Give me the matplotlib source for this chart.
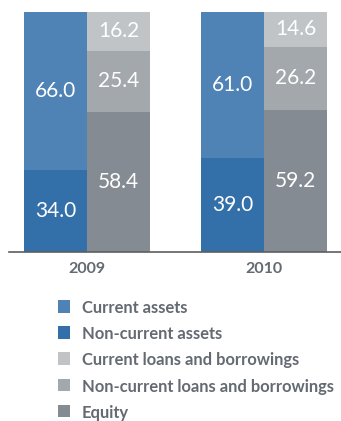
import matplotlib
matplotlib.use("Agg")
import matplotlib.pyplot as plt
from matplotlib.patches import Rectangle

plt.rcParams['font.family'] = ['Lato', 'DejaVu Sans']

years = ["2009", "2010"]
current_assets = [66.0, 61.0]
non_current_assets = [34.0, 39.0]
current_loans = [16.2, 14.6]
non_current_loans = [25.4, 26.2]
equity = [58.4, 59.2]

legend_labels = ["Current assets", "Non-current assets",
                 "Current loans and borrowings",
                 "Non-current loans and borrowings", "Equity"]

C_CUR_ASSETS = "#4f82b5"
C_NONCUR_ASSETS = "#3370a9"
C_CUR_LOANS = "#c0c4c7"
C_NONCUR_LOANS = "#a3a8ac"
C_EQUITY = "#858b92"
TEXT_GREY = "#646a72"

W, H = 341, 421
fig = plt.figure(figsize=(W / 100, H / 100), dpi=100)
# axes spans x 9..341 px, y 11..252 px (from top)
ax = fig.add_axes([9 / W, (H - 252) / H, 332 / W, 241 / H])

bw = 0.356
x = [0, 1]
left = [xi - bw / 2 for xi in x]
right = [xi + bw / 2 for xi in x]

# assets column: non-current at the bottom, current on top
ax.bar(left, non_current_assets, width=bw, color=C_NONCUR_ASSETS)
ax.bar(left, current_assets, width=bw, bottom=non_current_assets,
       color=C_CUR_ASSETS)

# liabilities column: equity, non-current loans, current loans
b2 = [e + n for e, n in zip(equity, non_current_loans)]
ax.bar(right, equity, width=bw, color=C_EQUITY)
ax.bar(right, non_current_loans, width=bw, bottom=equity, color=C_NONCUR_LOANS)
ax.bar(right, current_loans, width=bw, bottom=b2, color=C_CUR_LOANS)

lbl = dict(ha="center", va="center", color="white", fontsize=15)
for i in range(2):
    ax.text(left[i], non_current_assets[i] / 2, f"{non_current_assets[i]:.1f}", **lbl)
    ax.text(left[i], non_current_assets[i] + current_assets[i] / 2,
            f"{current_assets[i]:.1f}", **lbl)
    ax.text(right[i], equity[i] / 2, f"{equity[i]:.1f}", **lbl)
    ax.text(right[i], equity[i] + non_current_loans[i] / 2,
            f"{non_current_loans[i]:.1f}", **lbl)
    ax.text(right[i], b2[i] + current_loans[i] / 2, f"{current_loans[i]:.1f}", **lbl)

ax.set_xlim(-78 / 177, 254 / 177)
ax.set_ylim(0, 100.3)
for s in ["top", "right", "left"]:
    ax.spines[s].set_visible(False)
ax.spines["bottom"].set_color("#5e5e5e")
ax.spines["bottom"].set_linewidth(1.2)
ax.set_yticks([])
ax.set_xticks(x)
ax.set_xticklabels(years, fontsize=11.5, fontweight="bold", color=TEXT_GREY)
ax.tick_params(axis="x", length=0, pad=7)

# legend drawn as squares plus text
leg_colors = [C_CUR_ASSETS, C_NONCUR_ASSETS, C_CUR_LOANS, C_NONCUR_LOANS, C_EQUITY]
for k, (lab, col) in enumerate(zip(legend_labels, leg_colors)):
    cy = 306.5 + k * 26.2
    fig.add_artist(Rectangle(((58) / W, (H - cy - 6) / H), 12.5 / W, 12.5 / H,
                             transform=fig.transFigure, color=col, lw=0))
    fig.text(82 / W, (H - cy - 1.5) / H, lab, fontsize=11.9, fontweight="bold",
             color=TEXT_GREY, va="center", ha="left")

fig.savefig("out.png", dpi=100)
